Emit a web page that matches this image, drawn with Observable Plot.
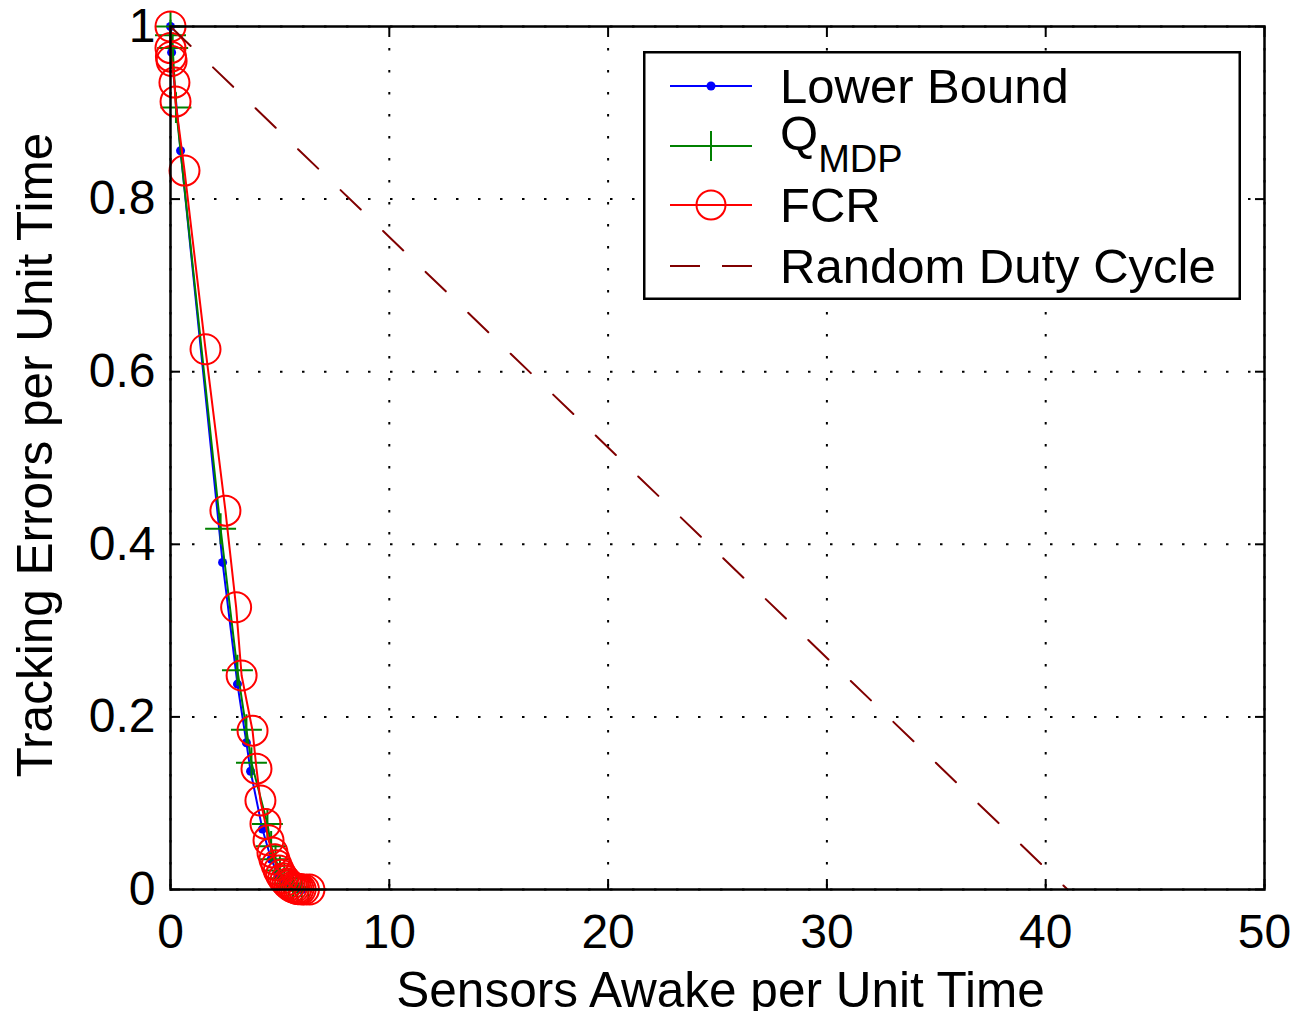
<!DOCTYPE html>
<html><head><meta charset="utf-8">
<script src="https://cdn.jsdelivr.net/npm/d3@7"></script>
<script src="https://cdn.jsdelivr.net/npm/@observablehq/plot@0.6"></script>
<style>
body{margin:0;background:#fff;}
#wrap{position:relative;width:1295px;height:1011px;overflow:hidden;font-family:"Liberation Sans",Arial,sans-serif;}
#legend{position:absolute;left:643px;top:51px;}
</style></head><body><div id="wrap"></div>
<script>
// ---- data ----
const lowerX = [0, 0.05, 0.46, 2.38, 3.06, 3.47, 3.66, 4.2, 4.6, 4.9, 5.2, 5.5, 5.8, 6.0];
const lowerY = [1.0, 0.97, 0.856, 0.379, 0.238, 0.170, 0.137, 0.07, 0.035, 0.018, 0.008, 0.003, 0.001, 0];

const qmdpX = [0, 0, 0.1, 0.25, 2.29, 3.06, 3.47, 3.7, 4.43, 4.6, 4.8, 5.0, 5.2, 5.4, 5.6, 5.8, 6.0, 6.3];
const qmdpY = [1.0, 0.99, 0.975, 0.906, 0.418, 0.254, 0.185, 0.147, 0.076, 0.05, 0.035, 0.022, 0.013, 0.007, 0.003, 0.001, 0, 0];

const fcrX = [0, 0, 0.02, 0.05, 0.18, 0.23, 0.64, 1.6, 2.51, 3.0, 3.25, 3.75, 3.93, 4.11, 4.34, 4.48, 4.66, 4.75, 4.85, 4.95, 5.05, 5.15, 5.25, 5.35, 5.45, 5.55, 5.65, 5.75, 5.85, 5.95, 6.1, 6.35];
const fcrY = [1.0, 0.975, 0.965, 0.96, 0.935, 0.913, 0.833, 0.626, 0.439, 0.327, 0.248, 0.184, 0.140, 0.103, 0.076, 0.057, 0.043, 0.035, 0.028, 0.022, 0.017, 0.013, 0.010, 0.007, 0.005, 0.003, 0.002, 0.001, 0.0005, 0.0002, 0, 0];

const randX = [0, 41];
const randY = [1, 0];

const xTicks = [0, 10, 20, 30, 40, 50];
const yTicks = [0, 0.2, 0.4, 0.6, 0.8, 1];

const seriesNames = ["Lower Bound", "Q", "FCR", "Random Duty Cycle"];
const qSub = "MDP";
const xLabel = "Sensors Awake per Unit Time";
const yLabel = "Tracking Errors per Unit Time";

// ---- build tables ----
const zipXY = (xs, ys) => xs.map((x, i) => ({x, y: ys[i]}));
const lower = zipXY(lowerX, lowerY);
const qmdp = zipXY(qmdpX, qmdpY);
const fcr = zipXY(fcrX, fcrY);
const rand = zipXY(randX, randY);

const FONT = "Liberation Sans, Arial, sans-serif";
const FS = 48;
const TFS = 49.5;
const fmt = d => String(d);

const chart = Plot.plot({
  width: 1295,
  height: 1011,
  marginLeft: 170,
  marginRight: 31,
  marginTop: 26,
  marginBottom: 122,
  style: {fontFamily: FONT, fontSize: FS + "px", background: "white", color: "black"},
  x: {domain: [0, 50]},
  y: {domain: [0, 1]},
  marks: [
    Plot.gridX(xTicks, {stroke: "black", strokeOpacity: 1, strokeWidth: 2, strokeDasharray: "2.5,19.5"}),
    Plot.gridY(yTicks, {stroke: "black", strokeOpacity: 1, strokeWidth: 2, strokeDasharray: "2.5,19.5"}),
    Plot.axisX(xTicks, {anchor: "bottom", tickSize: 0, tickPadding: 24, fontSize: FS, tickFormat: fmt, label: null}),
    Plot.axisX(xTicks, {anchor: "bottom", tickSize: -10, strokeWidth: 2, text: null, label: null}),
    Plot.axisX(xTicks, {anchor: "top", tickSize: -10, strokeWidth: 2, text: null, label: null}),
    Plot.axisY(yTicks, {anchor: "left", tickSize: 0, tickPadding: 15, fontSize: FS, tickFormat: fmt, label: null}),
    Plot.axisY(yTicks, {anchor: "left", tickSize: -10, strokeWidth: 2, text: null, label: null}),
    Plot.axisY(yTicks, {anchor: "right", tickSize: -10, strokeWidth: 2, text: null, label: null}),
    Plot.text([xLabel], {frameAnchor: "bottom", dy: 117, dx: 3, lineAnchor: "bottom", textAnchor: "middle", fontSize: TFS, fill: "black"}),
    Plot.text([yLabel], {frameAnchor: "left", dx: -154, dy: -3, rotate: -90, lineAnchor: "top", textAnchor: "middle", fontSize: TFS, fill: "black"}),
    // Lower bound
    Plot.line(lower, {x: "x", y: "y", stroke: "#0000ff", strokeWidth: 2}),
    Plot.dot(lower, {x: "x", y: "y", r: 4.5, fill: "#0000ff", stroke: "none"}),
    // QMDP
    Plot.line(qmdp, {x: "x", y: "y", stroke: "#008000", strokeWidth: 2}),
    Plot.dot(qmdp, {x: "x", y: "y", symbol: "plus", r: 10, stroke: "#008000", strokeWidth: 2}),
    // FCR
    Plot.line(fcr, {x: "x", y: "y", stroke: "#ff0000", strokeWidth: 2}),
    Plot.dot(fcr, {x: "x", y: "y", r: 15, fill: "none", stroke: "#ff0000", strokeWidth: 2}),
    // Random duty cycle
    Plot.line(rand, {x: "x", y: "y", stroke: "#800000", strokeWidth: 2, strokeDasharray: "28,31"}),
    Plot.frame({stroke: "black", strokeWidth: 2.5})
  ]
});
const wrap = document.getElementById("wrap");
wrap.appendChild(chart);

// ---- legend (box inside plot, MATLAB style) ----
const LFS = 49;
const lg = d3.select(wrap).append("svg").attr("id", "legend")
  .attr("width", 598).attr("height", 249)
  .style("font-family", FONT);
lg.append("rect").attr("x", 1.25).attr("y", 1.25).attr("width", 595.5).attr("height", 246.5)
  .attr("fill", "white").attr("stroke", "black").attr("stroke-width", 2.5);
const rowY = [35, 95, 154, 215];
const colors = ["#0000ff", "#008000", "#ff0000", "#800000"];
seriesNames.forEach((name, i) => {
  const y = rowY[i];
  const line = lg.append("line").attr("x1", 27).attr("x2", 109).attr("y1", y).attr("y2", y)
    .attr("stroke", colors[i]).attr("stroke-width", 2);
  if (i === 3) line.attr("stroke-dasharray", "30,22");
  const cx = 68;
  if (i === 0) lg.append("circle").attr("cx", cx).attr("cy", y).attr("r", 4.5).attr("fill", colors[i]);
  if (i === 1) lg.append("path").attr("d", `M${cx - 15},${y}H${cx + 15}M${cx},${y - 15}V${y + 15}`)
    .attr("stroke", colors[i]).attr("stroke-width", 2).attr("fill", "none");
  if (i === 2) lg.append("circle").attr("cx", cx).attr("cy", y).attr("r", 14.5)
    .attr("fill", "none").attr("stroke", colors[i]).attr("stroke-width", 2);
  const t = lg.append("text").attr("x", 137).attr("y", i === 1 ? 99 : y + 16.5)
    .attr("font-size", LFS).attr("fill", "black").text(name);
  if (i === 1) {
    const w = t.node().getComputedTextLength();
    lg.append("text").attr("x", 137 + w).attr("y", 121)
      .attr("font-size", 38).attr("fill", "black").text(qSub);
  }
});
</script>
</body></html>
